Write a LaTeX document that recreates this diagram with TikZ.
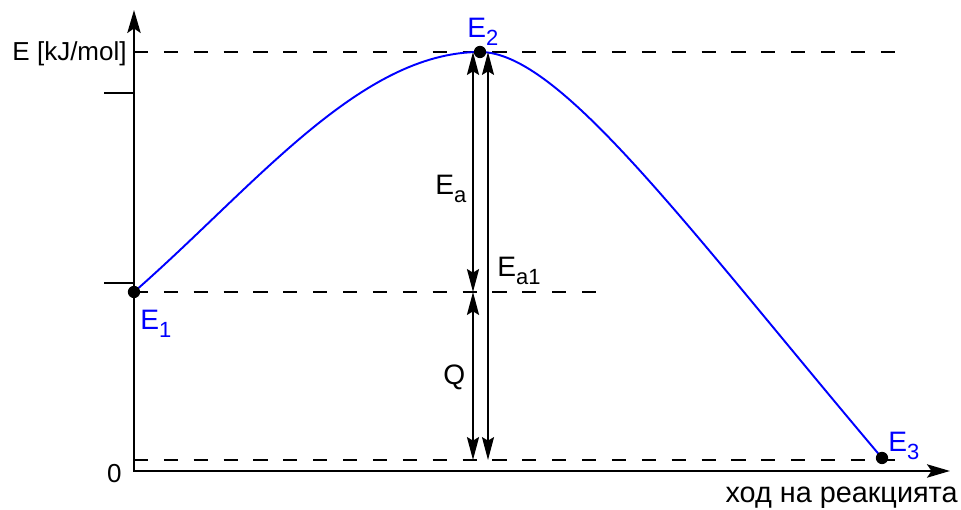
\documentclass[tikz,border=0pt]{standalone}
\usepackage{fontspec}
\setmainfont{Liberation Sans}
\usepackage{tikz}
\usetikzlibrary{arrows.meta}
\newcommand{\idx}[1]{\raisebox{-0.28em}{\fontsize{12.5}{14}\selectfont #1}}

\begin{document}
\begin{tikzpicture}[font=\fontsize{14.8}{17}\selectfont,
  axis/.style={line width=1.6pt,{Stealth[length=13pt,width=7.5pt,inset=2.5pt]}-{Stealth[length=13pt,width=7.5pt,inset=2.5pt]}},
  dim/.style={line width=1.4pt,{Stealth[length=13pt,width=6.8pt,inset=2pt]}-{Stealth[length=13pt,width=6.8pt,inset=2pt]}},
  guide/.style={line width=1.1pt,dash pattern=on 8pt off 9pt},
  tickmark/.style={line width=1.2pt},
  dot/.style={circle,fill,inner sep=0pt,minimum size=7pt},
  lbl/.style={inner sep=0pt,anchor=base west,font=\fontsize{16}{18}\selectfont},
  lvl/.style={lbl,text=blue}]
  \useasboundingbox (-2.68,-0.78) rectangle (16.54,9.42);
  % axes
  \coordinate (O) at (0,0);
  \coordinate (ytip) at (0,9.22);
  \coordinate (xtip) at (16.32,0);
  \draw[axis] (ytip) -- (O) -- (xtip);
  \draw[tickmark] (0,7.56) -- ++(-0.6,0);
  \draw[tickmark] (0,3.76) -- ++(-0.6,0);
  \node[anchor=base east,inner sep=0pt] (ylab) at (-0.14,8.2) {E [kJ/mol]};
  \node[anchor=base east,inner sep=0pt] (zero) at (-0.24,-0.24) {0};
  \node[anchor=base east,inner sep=0pt,font=\fontsize{16.4}{18}\selectfont] (xlab) at (16.48,-0.64) {ход на реакцията};
  % energy levels
  \coordinate (E1) at (0,3.58);
  \coordinate (E2) at (6.92,8.38);
  \coordinate (E3) at (14.96,0.26);
  \draw[guide] (0,8.38) -- (15.42,8.38);
  \draw[guide] (E1) -- (9.52,3.58);
  \draw[guide] (0,0.22) -- (15.42,0.22);
  \draw[blue,line width=1.1pt] (E1) .. controls (2.40,5.68) and (4.52,8.38) .. (E2)
    .. controls (8.52,8.38) and (11.04,4.90) .. (E3);
  \node[dot] (d1) at (E1) {};
  \node[dot] (d2) at (E2) {};
  \node[dot] (d3) at (E3) {};
  \node[lvl] (l1) at (0.12,2.82) {E\idx{1}};
  \node[lvl] (l2) at (6.66,8.66) {E\idx{2}};
  \node[lvl] (l3) at (15.08,0.38) {E\idx{3}};
  % energy differences
  \coordinate (atop) at (6.78,8.38);
  \coordinate (amid) at (6.78,3.58);
  \coordinate (abot) at (6.78,0.22);
  \coordinate (btop) at (7.08,8.38);
  \coordinate (bbot) at (7.08,0.22);
  \draw[dim] (atop) -- (amid);
  \draw[dim] (amid) -- (abot);
  \draw[dim,line width=1.1pt] (btop) -- (bbot);
  \node[lbl] (ea) at (6.02,5.52) {E\idx{a}};
  \node[lbl] (ea1) at (7.26,3.88) {E\idx{a1}};
  \node[lbl] (q) at (6.18,1.72) {Q};
\end{tikzpicture}
\end{document}
